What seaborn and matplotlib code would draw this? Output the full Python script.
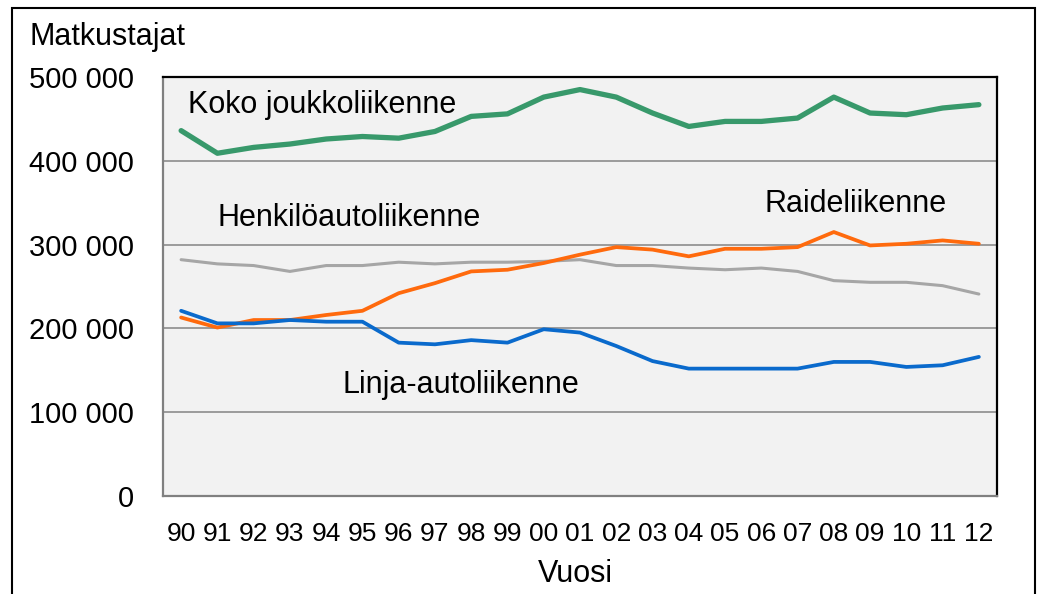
import pandas as pd
import matplotlib.pyplot as plt
import matplotlib.patches as patches
import seaborn as sns

# Years 1990-2012, shown as two-digit labels
years = ["90", "91", "92", "93", "94", "95", "96", "97", "98", "99", "00",
         "01", "02", "03", "04", "05", "06", "07", "08", "09", "10", "11", "12"]

koko = [436000, 409000, 416000, 420000, 426000, 429000, 427000, 435000, 453000, 456000, 476000,
        485000, 476000, 457000, 441000, 447000, 447000, 451000, 476000, 457000, 455000, 463000, 467000]
henkiloauto = [282000, 277000, 275000, 268000, 275000, 275000, 279000, 277000, 279000, 279000, 280000,
               282000, 275000, 275000, 272000, 270000, 272000, 268000, 257000, 255000, 255000, 251000, 241000]
raide = [213000, 201000, 210000, 210000, 216000, 221000, 242000, 254000, 268000, 270000, 278000,
         288000, 297000, 294000, 286000, 295000, 295000, 297000, 315000, 299000, 301000, 305000, 301000]
linja = [221000, 206000, 206000, 210000, 208000, 208000, 183000, 181000, 186000, 183000, 199000,
         195000, 179000, 161000, 152000, 152000, 152000, 152000, 160000, 160000, 154000, 156000, 166000]

series_names = ["Koko joukkoliikenne", "Henkilöautoliikenne", "Raideliikenne", "Linja-autoliikenne"]
series_values = [koko, henkiloauto, raide, linja]
colors = ["#38996b", "#a6a6a6", "#ff6a0d", "#0a6acc"]
widths = [3.8, 2.2, 2.7, 2.7]

rows = []
for name, vals in zip(series_names, series_values):
    for i, v in enumerate(vals):
        rows.append({"idx": i, "value": v, "series": name})
df = pd.DataFrame(rows)

sns.set_style("white")
plt.rcParams["font.family"] = ["Liberation Sans", "DejaVu Sans"]
plt.rcParams["text.color"] = "black"
plt.rcParams["xtick.color"] = "black"
plt.rcParams["ytick.color"] = "black"

fig = plt.figure(figsize=(10.42, 5.94), dpi=100)
ax = fig.add_axes([163 / 1042, (594 - 496) / 594, 834 / 1042, 419 / 594])
ax.set_facecolor("#f2f2f2")

for name, c, w in zip(series_names, colors, widths):
    sns.lineplot(data=df[df["series"] == name], x="idx", y="value", color=c,
                 linewidth=w, ax=ax, legend=False)

n = len(years)
ax.set_xlim(-0.5, n - 0.5)
ax.set_ylim(0, 500000)
ax.set_yticks(range(0, 500001, 100000))
ax.set_yticklabels(["0", "100 000", "200 000", "300 000", "400 000", "500 000"], fontsize=21)
ax.set_xticks(range(n))
ax.set_xticklabels(years, fontsize=19)
ax.set_xticks([i + 0.5 for i in range(n)], minor=True)
ax.tick_params(axis="x", which="major", length=0, pad=19)
ax.tick_params(axis="x", which="minor", direction="in", length=8, color="#808080", width=1.3)
ax.tick_params(axis="y", length=0, pad=21)
ax.set_xlabel("")
ax.set_ylabel("")

for yv in range(100000, 500000, 100000):
    ax.axhline(yv, color="#8c8c8c", linewidth=1.2, zorder=0.5)

for side in ["left", "bottom"]:
    ax.spines[side].set_color("#808080")
    ax.spines[side].set_linewidth(1.6)
for side in ["top", "right"]:
    ax.spines[side].set_color("black")
    ax.spines[side].set_linewidth(1.6)
    ax.spines[side].set_visible(True)

# Series labels placed in the plot
ax.text(0.2, 466000, "Koko joukkoliikenne", fontsize=22, va="center", ha="left")
ax.text(1.0, 332000, "Henkilöautoliikenne", fontsize=22, va="center", ha="left")
ax.text(16.1, 349000, "Raideliikenne", fontsize=22, va="center", ha="left")
ax.text(4.45, 132000, "Linja-autoliikenne", fontsize=22, va="center", ha="left")

fig.text(30 / 1042, 1 - 37 / 594, "Matkustajat", fontsize=22, va="center", ha="left")
fig.text(575 / 1042, 1 - 574 / 594, "Vuosi", fontsize=22, va="center", ha="center")

# Outer chart frame (bottom edge falls outside the image)
frame = patches.Rectangle((12 / 1042, -0.1), (1035 - 12) / 1042, 1.1 - 8 / 594,
                          transform=fig.transFigure, fill=False, edgecolor="black",
                          linewidth=1.5, clip_on=False)
fig.patches.append(frame)

fig.savefig("out.png", dpi=100)
